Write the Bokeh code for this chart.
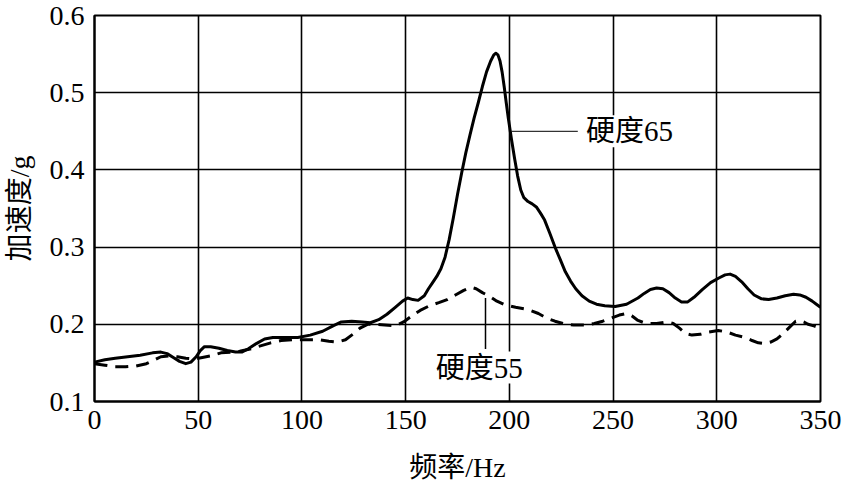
from bokeh.plotting import figure
from bokeh.models import Range1d, FixedTicker, Label
from bokeh.embed import file_html
from bokeh.resources import INLINE

# ---- data ----
x_ticks = [0, 50, 100, 150, 200, 250, 300, 350]
y_ticks = [0.1, 0.2, 0.3, 0.4, 0.5, 0.6]

freq_65 = [0, 5, 10, 16, 22, 28, 32, 35, 38, 41, 44, 46.5, 49, 51, 53, 56, 60, 64,
           68, 71, 74, 78, 82, 86, 92, 98, 104, 110, 115, 119, 124, 129, 133, 137,
           141, 145, 148.5, 151, 153.5, 156, 159, 161, 163, 165, 167, 169, 171, 173,
           175, 177, 179, 181, 183, 185, 187, 189, 191, 192.5, 193.5, 194.5, 195.5,
           196.5, 197.5, 198.5, 199.5, 201, 202.5, 204, 205.5, 207, 209, 211, 213,
           215, 217, 219.5, 222, 224.5, 227, 229.5, 232, 235, 238.5, 242, 246, 251,
           256.5, 262, 265, 268, 271, 274, 277, 280, 283, 286, 289, 293, 297, 301,
           304, 306.4, 309, 312, 315, 318, 321.6, 325, 329, 333, 337, 340, 343, 346,
           348, 350]
acc_65 = [0.151, 0.154, 0.156, 0.158, 0.160, 0.163, 0.164, 0.162, 0.157, 0.152,
          0.149, 0.151, 0.158, 0.166, 0.171, 0.171, 0.169, 0.166, 0.164, 0.164,
          0.168, 0.175, 0.181, 0.183, 0.183, 0.183, 0.186, 0.191, 0.198, 0.203,
          0.204, 0.203, 0.202, 0.206, 0.213, 0.222, 0.230, 0.234, 0.232, 0.231,
          0.237, 0.246, 0.254, 0.262, 0.272, 0.287, 0.310, 0.338, 0.368, 0.396,
          0.422, 0.445, 0.467, 0.487, 0.508, 0.527, 0.541, 0.549, 0.551, 0.549,
          0.541, 0.527, 0.508, 0.487, 0.467, 0.440, 0.415, 0.392, 0.374, 0.364,
          0.359, 0.356, 0.352, 0.344, 0.335, 0.318, 0.300, 0.284, 0.268, 0.256,
          0.246, 0.237, 0.230, 0.226, 0.224, 0.223, 0.226, 0.234, 0.240, 0.245,
          0.247, 0.246, 0.241, 0.234, 0.229, 0.229, 0.235, 0.245, 0.254, 0.260,
          0.264, 0.265, 0.262, 0.255, 0.246, 0.238, 0.233, 0.232, 0.234, 0.237,
          0.239, 0.238, 0.235, 0.230, 0.226, 0.222]

freq_55 = [0, 5, 10, 15, 20, 25, 29, 32, 36, 40, 44, 48, 52, 56, 61, 66, 70, 75,
           80, 85, 90, 96, 102, 108, 113, 117, 121, 124.5, 128, 131.6, 135, 140,
           145, 149, 153, 157, 161.5, 166, 170, 174, 178, 181.5, 184, 187, 190, 194,
           198, 203, 209, 214, 218, 222, 226, 231, 236, 241, 245, 249, 253, 256.5,
           259, 262, 266, 271, 276, 279, 282, 285, 288, 292, 296, 300.7, 305, 309,
           313.5, 317, 320, 323, 326, 329, 332, 335, 338, 340, 342, 344, 346.8, 350]
acc_55 = [0.149, 0.147, 0.145, 0.145, 0.146, 0.149, 0.154, 0.158, 0.159, 0.158,
          0.156, 0.155, 0.157, 0.159, 0.163, 0.164, 0.165, 0.168, 0.172, 0.176,
          0.179, 0.180, 0.180, 0.180, 0.178, 0.177, 0.180, 0.187, 0.195, 0.200,
          0.200, 0.199, 0.198, 0.203, 0.211, 0.218, 0.224, 0.228, 0.232, 0.238,
          0.244, 0.248, 0.246, 0.241, 0.237, 0.230, 0.225, 0.222, 0.219, 0.214,
          0.208, 0.204, 0.201, 0.199, 0.199, 0.201, 0.204, 0.208, 0.212, 0.214,
          0.211, 0.205, 0.201, 0.201, 0.203, 0.201, 0.195, 0.188, 0.186, 0.187,
          0.190, 0.192, 0.190, 0.186, 0.183, 0.179, 0.176, 0.175, 0.177, 0.181,
          0.188, 0.196, 0.204, 0.205, 0.203, 0.200, 0.198, 0.195]

label_65 = "硬度65"
label_55 = "硬度55"
x_title = "频率/Hz"
y_title = "加速度/g"

# annotation anchor points (data units)
lead65_x = [201, 233]
lead65_y = [0.45, 0.45]
text65_xy = (237.0, 0.45)
lead55_x = [188.5, 188.5]
lead55_y = [0.234, 0.168]
text55_xy = (185.5, 0.144)

TXT_FONT = "Liberation Serif, Noto Sans CJK SC"

p = figure(width=842, height=485, output_backend="svg", toolbar_location=None,
           x_range=Range1d(0, 350), y_range=Range1d(0.1, 0.6),
           min_border_left=92, min_border_right=22, min_border_top=15,
           min_border_bottom=0)
p.background_fill_color = "white"
p.border_fill_color = "white"
p.outline_line_color = "black"
p.outline_line_width = 2

p.xaxis.ticker = FixedTicker(ticks=x_ticks)
p.yaxis.ticker = FixedTicker(ticks=y_ticks)
for ax in (p.xaxis[0], p.yaxis[0]):
    ax.axis_line_color = "black"
    ax.axis_line_width = 2
    ax.major_tick_out = 0
    ax.major_tick_in = 0
    ax.minor_tick_out = 0
    ax.minor_tick_in = 0
    ax.major_label_text_font = TXT_FONT
    ax.major_label_text_font_size = "28px"
    ax.major_label_text_color = "black"
    ax.axis_label_text_font = TXT_FONT
    ax.axis_label_text_font_size = "28px"
    ax.axis_label_text_font_style = "normal"
    ax.axis_label_text_color = "black"

p.xaxis.axis_label = x_title
p.yaxis.axis_label = y_title
p.xaxis.major_label_standoff = 9
p.yaxis.major_label_standoff = 10
p.xaxis.axis_label_standoff = 20
p.yaxis.axis_label_standoff = 12

p.xgrid.ticker = FixedTicker(ticks=x_ticks)
p.ygrid.ticker = FixedTicker(ticks=y_ticks)
p.grid.grid_line_color = "black"
p.grid.grid_line_width = 1.6
p.grid.grid_line_alpha = 1.0

p.line(freq_65, acc_65, line_color="black", line_width=3, line_join="round")
p.line(freq_55, acc_55, line_color="black", line_width=3, line_dash="13 8")

p.line(lead65_x, lead65_y, line_color="black", line_width=1)
p.line(lead55_x, lead55_y, line_color="black", line_width=1.5)

p.add_layout(Label(x=text65_xy[0], y=text65_xy[1], text=label_65,
                   text_font=TXT_FONT, text_font_size="29px", text_color="black",
                   text_align="left", text_baseline="middle",
                   background_fill_color="white", background_fill_alpha=1.0))
p.add_layout(Label(x=text55_xy[0], y=text55_xy[1], text=label_55,
                   text_font=TXT_FONT, text_font_size="29px", text_color="black",
                   text_align="center", text_baseline="middle",
                   background_fill_color="white", background_fill_alpha=1.0))

open("out.html", "w").write(file_html(p, INLINE))
